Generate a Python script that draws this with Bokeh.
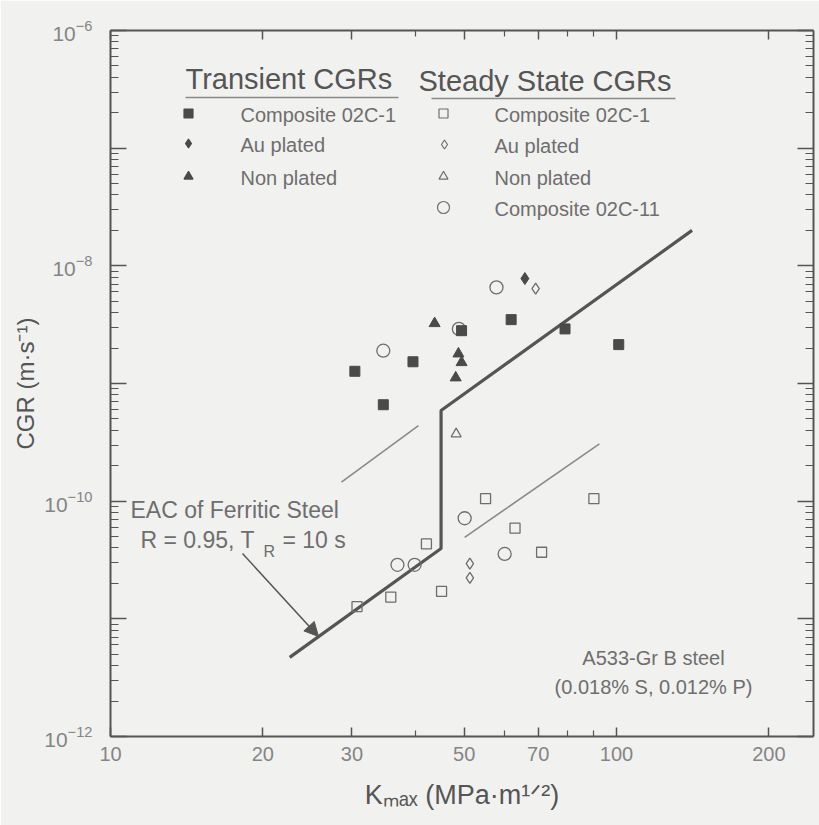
import math

from bokeh.plotting import figure
from bokeh.models import (LogAxis, FixedTicker, BasicTickFormatter, Label, Arrow,
                          NormalHead, Range1d, CustomJSTickFormatter)
from bokeh.embed import file_html
from bokeh.resources import INLINE

# ---------------- data ----------------
# Transient CGRs (filled symbols)
tr_comp_k = [30.4, 34.6, 39.6, 49.4, 61.9, 79.1, 101.0]
tr_comp_cgr = [1.27e-9, 6.6e-10, 1.53e-9, 2.81e-9, 3.49e-9, 2.91e-9, 2.14e-9]
tr_au_k = [65.9]
tr_au_cgr = [7.8e-9]
tr_non_k = [43.7, 48.7, 49.4, 48.1]
tr_non_cgr = [3.24e-9, 1.79e-9, 1.51e-9, 1.12e-9]

# Steady-state CGRs (open symbols)
ss_comp_k = [30.7, 35.8, 42.1, 45.1, 55.1, 63.0, 71.1, 90.2]
ss_comp_cgr = [1.27e-11, 1.53e-11, 4.33e-11, 1.71e-11, 1.05e-10, 5.9e-11, 3.68e-11, 1.05e-10]
ss_au_k = [69.2, 51.3, 51.3]
ss_au_cgr = [6.4e-9, 2.95e-11, 2.23e-11]
ss_non_k = [48.2]
ss_non_cgr = [3.73e-10]
ss_c11_k = [57.9, 48.8, 34.6, 50.1, 60.1, 36.9, 39.9]
ss_c11_cgr = [6.56e-9, 2.91e-9, 1.9e-9, 7.16e-11, 3.56e-11, 2.88e-11, 2.88e-11]

# EAC curve of ferritic steel, R = 0.95, T_R = 10 s
eac_k = [22.6, 45.0, 45.0, 141.0]
eac_cgr = [4.7e-12, 3.96e-11, 5.9e-10, 2.0e-8]

# thin guide lines
band_hi_k = [28.6, 40.6]
band_hi_cgr = [1.45e-10, 4.39e-10]
band_lo_k = [50.1, 92.5]
band_lo_cgr = [4.93e-11, 3.07e-10]

# axes
x_ticks = [10, 20, 30, 50, 70, 100, 200]
x_minor = [40, 60, 80, 90]
y_decades = [-12, -11, -10, -9, -8, -7, -6]
y_labelled = [-12, -10, -8, -6]

X0, X1 = 10, 245
Y0, Y1 = 1e-12, 1e-6

# ---------------- styling ----------------
BG = "#f1f1ef"
AX = "#555555"
FILL = "#4a4a4a"
OPEN = "#6e6e6e"
TXT = "#6e6e6e"
FONT = "Liberation Sans"

W, H = 819, 825
FL, FR, FT, FB = 110, 813, 30, 736


def at(px, py):
    """Canvas pixel position -> data coordinates (for annotations only)."""
    lx0, lx1 = math.log10(X0), math.log10(X1)
    ly0, ly1 = math.log10(Y0), math.log10(Y1)
    x = 10 ** (lx0 + (px - FL) / (FR - FL) * (lx1 - lx0))
    y = 10 ** (ly0 + (FB - py) / (FB - FT) * (ly1 - ly0))
    return x, y


p = figure(width=W, height=H, x_axis_type="log", y_axis_type="log",
           x_range=Range1d(X0, X1), y_range=Range1d(Y0, Y1),
           output_backend="svg", toolbar_location=None,
           min_border_left=FL, min_border_right=W - FR,
           min_border_top=FT, min_border_bottom=H - FB)
p.grid.visible = False
p.outline_line_color = None
p.background_fill_color = BG
p.border_fill_color = BG

x_ticker = FixedTicker(ticks=x_ticks, minor_ticks=x_minor)
y_ticker = FixedTicker(ticks=[10.0 ** e for e in y_decades],
                       minor_ticks=[k * 10.0 ** e for e in y_decades[:-1] for k in range(2, 10)])


def style_axis(ax, ticker, major_len, minor_len):
    ax.ticker = ticker
    ax.axis_line_color = AX
    ax.axis_line_width = 2
    ax.major_tick_line_color = AX
    ax.minor_tick_line_color = AX
    ax.major_tick_line_width = 1.5
    ax.minor_tick_line_width = 1.2
    ax.major_tick_in = major_len
    ax.major_tick_out = 0
    ax.minor_tick_in = minor_len
    ax.minor_tick_out = 0
    ax.major_label_text_font = FONT
    ax.major_label_text_color = "#858585"
    ax.axis_label_text_font = FONT
    ax.axis_label_text_font_style = "normal"
    ax.axis_label_text_color = "#555555"


bx = p.xaxis[0]
style_axis(bx, x_ticker, 9, 6)
bx.formatter = BasicTickFormatter()
bx.major_label_text_font_size = "20px"
bx.major_label_standoff = 10
bx.axis_label = "Kₘₐₓ (MPa·m¹ᐟ²)"
bx.axis_label_text_font_size = "27px"
bx.axis_label_standoff = 16

ly = p.yaxis[0]
style_axis(ly, y_ticker, 16, 8)
ly.major_label_text_font_size = "21px"
ly.major_label_standoff = 18
ly.major_label_overrides = {10.0 ** e: "" for e in y_decades if e not in y_labelled}
ly.axis_label = "CGR (m·s⁻¹)"
ly.axis_label_text_font_size = "24px"
ly.axis_label_standoff = 2

blank = CustomJSTickFormatter(code="return ''")
top = LogAxis(formatter=blank, major_label_standoff=0)
style_axis(top, x_ticker, 9, 6)
top.major_label_text_font_size = "0px"
p.add_layout(top, "above")
right = LogAxis(formatter=blank, major_label_standoff=0)
style_axis(right, y_ticker, 16, 8)
right.major_label_text_font_size = "0px"
p.add_layout(right, "right")

# ---------------- curves ----------------
p.line(band_hi_k, band_hi_cgr, line_color="#8a8a8a", line_width=1.6)
p.line(band_lo_k, band_lo_cgr, line_color="#8a8a8a", line_width=1.6)
p.line(eac_k, eac_cgr, line_color="#555555", line_width=3.2)

# ---------------- data points ----------------
p.scatter(ss_comp_k, ss_comp_cgr, marker="square", size=10, fill_color=None,
          line_color=OPEN, line_width=1.3)
p.scatter(ss_au_k, ss_au_cgr, marker="diamond", size=11, fill_color=None,
          line_color=OPEN, line_width=1.3)
p.scatter(ss_non_k, ss_non_cgr, marker="triangle", size=10, fill_color=None,
          line_color=OPEN, line_width=1.3)
p.scatter(ss_c11_k, ss_c11_cgr, marker="circle", size=13, fill_color=None,
          line_color=OPEN, line_width=1.3)
p.scatter(tr_comp_k, tr_comp_cgr, marker="square", size=10, fill_color=FILL,
          line_color=FILL)
p.scatter(tr_au_k, tr_au_cgr, marker="diamond", size=12, fill_color=FILL,
          line_color=FILL)
p.scatter(tr_non_k, tr_non_cgr, marker="triangle", size=11, fill_color=FILL,
          line_color=FILL)


# ---------------- texts ----------------
def label(px, py, s, size, color=TXT, align="left", baseline="middle"):
    x, y = at(px, py)
    p.add_layout(Label(x=x, y=y, text=s, text_font=FONT, text_font_size=f"{size}px",
                       text_color=color, text_align=align, text_baseline=baseline))


# legend block
label(185, 78, "Transient CGRs", 29, color="#555555")
label(418, 80, "Steady State CGRs", 29, color="#555555")
for x0, x1, yy in ((185, 398, 97), (431, 675, 98)):
    (ax0, ay), (ax1, _) = at(x0, yy), at(x1, yy)
    p.line([ax0, ax1], [ay, ay], line_color="#8a8a8a", line_width=1.3)

legend_rows = [
    (188, 113, "square", 9, FILL, FILL, "Composite 02C-1", 240),
    (188, 143, "diamond", 9, FILL, FILL, "Au plated", 240),
    (188, 176, "triangle", 9, FILL, FILL, "Non plated", 240),
    (443, 113, "square", 9, None, OPEN, "Composite 02C-1", 494),
    (444, 144, "diamond", 9, None, OPEN, "Au plated", 494),
    (443, 176, "triangle", 9, None, OPEN, "Non plated", 494),
    (443, 207, "circle", 12, None, OPEN, "Composite 02C-11", 494),
]
for mx, my, mk, ms, fc, lc, text, tx in legend_rows:
    kx, ky = at(mx, my)
    p.scatter([kx], [ky], marker=mk, size=ms, fill_color=fc, line_color=lc, line_width=1.2)
    label(tx, my + 1, text, 20)

# curve annotation
label(130, 509, "EAC of Ferritic Steel", 23)
label(140, 539, "R = 0.95, T", 23)
label(263, 551, "R", 16)
label(282, 539, "= 10 s", 23)
(tx0, ty0), (tx1, ty1) = at(242, 553), at(318, 636)
p.add_layout(Arrow(x_start=tx0, y_start=ty0, x_end=tx1, y_end=ty1,
                   line_color="#555555", line_width=1.5,
                   end=NormalHead(size=14, fill_color="#555555", line_color="#555555")))

# material note
label(653, 657, "A533-Gr B steel", 20, align="center")
label(653, 686, "(0.018% S, 0.012% P)", 20, align="center")

open("out.html", "w").write(file_html(p, INLINE))
